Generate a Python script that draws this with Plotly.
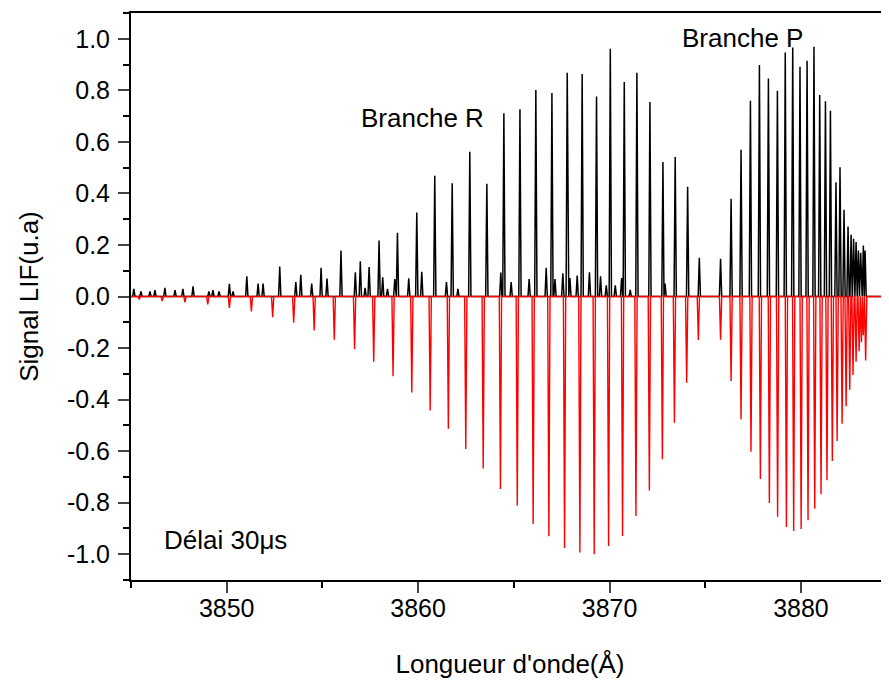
import plotly.graph_objects as go

# ---- data (wavelength in Å, signal in u.a.) ----
black_pos = [3845.15, 3845.52, 3845.99, 3846.25, 3846.77, 3847.30, 3847.71, 3848.24, 3849.07, 3849.28,
             3849.60, 3850.14, 3850.33, 3851.05, 3851.64, 3851.90, 3852.77, 3853.61, 3853.87, 3854.44,
             3854.93, 3855.24, 3855.97, 3856.72, 3856.98, 3857.23, 3857.44, 3857.96, 3858.15, 3858.40,
             3858.78, 3858.92, 3859.51, 3859.93, 3860.19, 3860.87, 3861.48, 3861.78, 3862.08, 3862.70,
             3863.59, 3864.32, 3864.48, 3864.86, 3865.32, 3865.80, 3866.15, 3866.69, 3866.99, 3867.15,
             3867.56, 3867.79, 3867.93, 3868.31, 3868.57, 3868.95, 3869.32, 3869.53, 3869.83, 3870.04,
             3870.30, 3870.63, 3870.77, 3871.08, 3871.43, 3872.11, 3872.79, 3872.90, 3873.43, 3874.08,
             3874.69, 3875.80, 3876.35, 3876.87, 3877.36, 3877.83, 3878.30, 3878.77, 3879.18, 3879.57,
             3879.95, 3880.32, 3880.68, 3880.98, 3881.28, 3881.54, 3881.83, 3882.04, 3882.25, 3882.46,
             3882.62, 3882.75, 3882.88, 3883.00, 3883.12, 3883.26, 3883.35]
black_val = [0.030, 0.020, 0.020, 0.025, 0.034, 0.025, 0.030, 0.039, 0.020, 0.025,
             0.020, 0.049, 0.020, 0.078, 0.050, 0.050, 0.116, 0.056, 0.084, 0.050,
             0.111, 0.070, 0.178, 0.094, 0.137, 0.034, 0.114, 0.217, 0.075, 0.030,
             0.068, 0.247, 0.071, 0.326, 0.096, 0.468, 0.056, 0.439, 0.030, 0.562,
             0.437, 0.093, 0.711, 0.056, 0.727, 0.068, 0.801, 0.111, 0.790, 0.068,
             0.090, 0.868, 0.072, 0.081, 0.863, 0.094, 0.776, 0.078, 0.043, 0.961,
             0.043, 0.072, 0.832, 0.026, 0.868, 0.755, 0.522, 0.050, 0.541, 0.426,
             0.150, 0.146, 0.379, 0.569, 0.760, 0.898, 0.846, 0.798, 0.947, 0.966,
             0.891, 0.915, 0.969, 0.782, 0.758, 0.721, 0.443, 0.501, 0.337, 0.272,
             0.240, 0.224, 0.211, 0.178, 0.170, 0.198, 0.178]

red_pos = [3845.43, 3846.63, 3847.82, 3849.01, 3850.14, 3851.29, 3852.40, 3853.50, 3854.57, 3855.62,
           3856.68, 3857.68, 3858.69, 3859.67, 3860.63, 3861.58, 3862.49, 3863.40, 3864.30, 3865.18,
           3866.01, 3866.83, 3867.65, 3868.45, 3869.20, 3869.95, 3870.68, 3871.38, 3872.08, 3872.76,
           3873.39, 3874.03, 3874.64, 3875.80, 3876.35, 3876.87, 3877.39, 3877.88, 3878.35, 3878.78,
           3879.24, 3879.62, 3880.01, 3880.37, 3880.72, 3881.05, 3881.36, 3881.64, 3881.89, 3882.15,
           3882.36, 3882.55, 3882.72, 3882.88, 3883.04, 3883.16, 3883.26, 3883.38]
red_val = [-0.012, -0.018, -0.023, -0.031, -0.044, -0.058, -0.080, -0.102, -0.132, -0.168,
           -0.205, -0.253, -0.309, -0.372, -0.442, -0.513, -0.592, -0.667, -0.747, -0.811,
           -0.883, -0.930, -0.976, -0.993, -1.000, -0.968, -0.929, -0.852, -0.753, -0.631,
           -0.490, -0.335, -0.169, -0.168, -0.328, -0.476, -0.602, -0.708, -0.801, -0.855,
           -0.894, -0.910, -0.902, -0.868, -0.824, -0.767, -0.713, -0.638, -0.561, -0.494,
           -0.426, -0.362, -0.305, -0.253, -0.212, -0.177, -0.150, -0.248]

x_range = [3845.0, 3884.6]
y_range = [-1.1, 1.1]
x_ticks = [3850, 3860, 3870, 3880]
y_ticks = [1.0, 0.8, 0.6, 0.4, 0.2, 0.0, -0.2, -0.4, -0.6, -0.8, -1.0]
y_ticktext = ["1.0", "0.8", "0.6", "0.4", "0.2", "0.0", "-0.2", "-0.4", "-0.6", "-0.8", "-1.0"]


def stick_line(pos, val, half=0.06):
    """Connect each peak (pos, val) to the zero baseline on both sides."""
    xs, ys = [x_range[0]], [0.0]
    n = len(pos)
    for i in range(n):
        p, v = pos[i], val[i]
        left = half if i == 0 else min(half, (p - pos[i - 1]) / 2)
        right = half if i == n - 1 else min(half, (pos[i + 1] - p) / 2)
        xs += [p - left, p, p + right]
        ys += [0.0, v, 0.0]
    xs.append(x_range[1])
    ys.append(0.0)
    return xs, ys


bx, by = stick_line(black_pos, black_val)
rx, ry = stick_line(red_pos, red_val)

FONT = "Liberation Sans, Arial, sans-serif"

fig = go.Figure()
fig.add_trace(go.Scatter(x=bx, y=by, mode="lines", line=dict(color="black", width=1.5),
                         showlegend=False, hoverinfo="skip"))
fig.add_trace(go.Scatter(x=rx, y=ry, mode="lines", line=dict(color="red", width=1.4),
                         showlegend=False, hoverinfo="skip"))

fig.update_layout(
    width=881, height=672,
    margin=dict(l=123, r=0, t=5, b=100),
    paper_bgcolor="white", plot_bgcolor="white",
    font=dict(family=FONT, color="black", size=25),
    showlegend=False,
)
fig.update_xaxes(
    range=x_range, tickvals=x_ticks, ticks="outside", ticklen=11, tickwidth=2,
    showline=True, linewidth=2, linecolor="black", mirror=True, showgrid=False, zeroline=False,
    tickfont=dict(size=25, family=FONT), ticklabelstandoff=-6,
    minor=dict(dtick=5, tick0=3845, ticks="outside", ticklen=6, tickwidth=2, tickcolor="black", showgrid=False),
    title=dict(text="Longueur d'onde(Å)", font=dict(size=26, family=FONT), standoff=34),
)
fig.update_yaxes(
    range=y_range, tickvals=y_ticks, ticktext=y_ticktext, ticks="outside", ticklen=11, tickwidth=2,
    showline=True, linewidth=2, linecolor="black", showgrid=False, zeroline=False,
    tickfont=dict(size=25, family=FONT), ticklabelstandoff=3,
    minor=dict(dtick=0.1, tick0=0, ticks="outside", ticklen=6, tickwidth=2, tickcolor="black", showgrid=False),
    title=dict(text="Signal LIF(u.a)", font=dict(size=26, family=FONT), standoff=21),
)

fig.add_annotation(x=3860.21, y=0.694, text="Branche R", showarrow=False,
                   font=dict(size=26, family=FONT), xanchor="center", yanchor="middle")
fig.add_annotation(x=3876.94, y=1.004, text="Branche P", showarrow=False,
                   font=dict(size=26, family=FONT), xanchor="center", yanchor="middle")
fig.add_annotation(x=3849.96, y=-0.946, text="Délai 30μs", showarrow=False,
                   font=dict(size=26, family=FONT), xanchor="center", yanchor="middle")

fig.write_html("out.html")
